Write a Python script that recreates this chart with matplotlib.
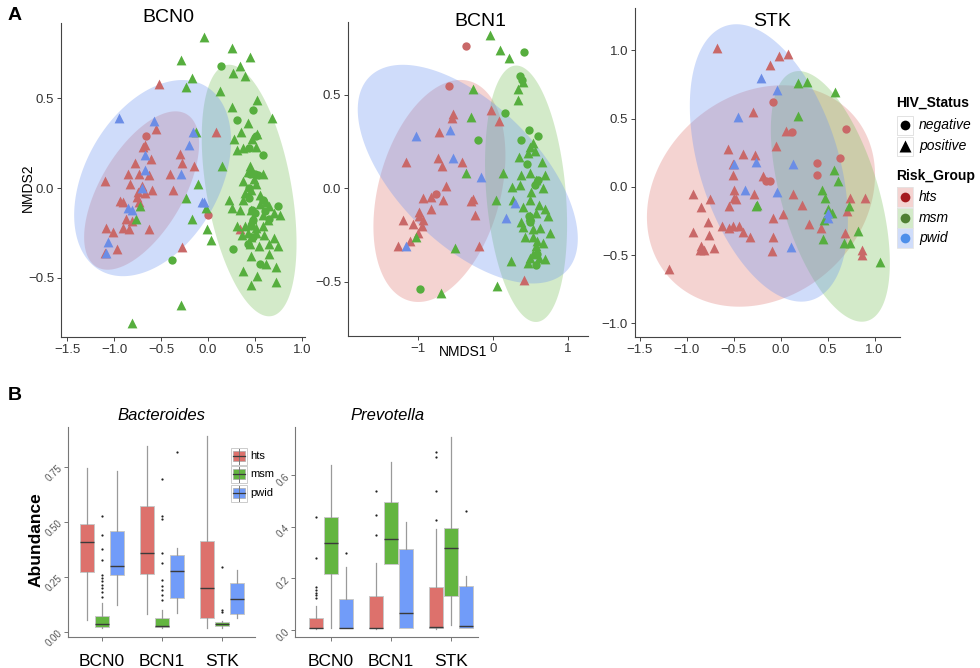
import numpy as np
import matplotlib
matplotlib.use("Agg")
import matplotlib.pyplot as plt
from matplotlib.patches import Rectangle

plt.rcParams['font.family'] = ['Liberation Sans', 'DejaVu Sans']

# ---------------- panel A data: NMDS points (x, y) ----------------
bcn0_hts_pos = [(-0.52, 0.58), (-0.55, 0.33), (-0.675, 0.24), (-0.69, 0.23), (0.08, 0.31), (-0.30, 0.19),
                (-0.61, 0.16), (-0.78, 0.14), (-0.275, 0.14), (-0.15, 0.12), (-0.85, 0.08), (-0.73, 0.08),
                (-0.40, 0.08), (-0.63, 0.07), (-1.10, 0.04), (-0.83, 0.02), (-0.70, 0.01), (-0.60, -0.01),
                (-0.75, -0.02), (-0.375, -0.01), (-0.67, -0.03), (-0.76, -0.05), (-0.94, -0.07), (-0.91, -0.08),
                (-0.74, -0.08), (-0.875, -0.17), (-0.81, -0.185), (-1.09, -0.22), (-0.90, -0.22), (-0.84, -0.23),
                (-0.63, -0.23), (-1.01, -0.245), (-0.97, -0.34), (-1.10, -0.36), (-0.275, -0.33), (0.34, -0.23)]
bcn0_hts_neg = [(-0.66, 0.29), (0.0, -0.15)]
bcn0_pwid_pos = [(-0.95, 0.39), (-0.58, 0.37), (-0.16, 0.31), (-0.20, 0.24), (-0.67, 0.185), (-0.67, 0.10),
                 (-0.29, 0.08), (-0.70, 0.0), (-0.85, -0.11), (-0.81, -0.12), (-1.06, -0.30), (-1.09, -0.36),
                 (-0.07, -0.08), (-0.04, -0.075)]
bcn0_pwid_neg = []
bcn0_msm_pos = [(-0.04, 0.84), (-0.29, 0.71), (-0.17, 0.61), (-0.23, 0.56), (-0.13, 0.31), (0.15, 0.12),
                (-0.11, 0.02), (-0.24, -0.055), (-0.72, -0.10), (-0.77, -0.17), (-0.17, -0.17), (-0.02, -0.11),
                (-0.01, -0.23), (0.03, -0.29), (-0.29, -0.65), (-0.81, -0.75),
                (0.25, 0.78), (0.44, 0.73), (0.34, 0.68), (0.39, 0.62), (0.26, 0.64), (0.125, 0.54),
                (0.52, 0.49), (0.25, 0.45), (0.675, 0.39), (0.42, 0.36), (0.35, 0.31), (0.52, 0.30),
                (0.28, 0.27), (0.47, 0.27), (0.31, 0.21), (0.37, 0.22), (0.51, 0.23), (0.44, 0.12),
                (0.42, 0.09), (0.58, 0.08), (0.37, 0.04), (0.49, 0.05), (0.51, 0.02), (0.46, -0.01),
                (0.39, -0.03), (0.225, -0.065), (0.55, -0.04), (0.37, -0.065), (0.62, -0.075), (0.55, -0.09),
                (0.65, -0.10), (0.25, -0.11), (0.34, -0.12), (0.46, -0.12), (0.70, -0.14), (0.76, -0.15),
                (0.58, -0.15), (0.47, -0.17), (0.64, -0.18), (0.31, -0.21), (0.39, -0.21), (0.51, -0.22),
                (0.58, -0.21), (0.42, -0.25), (0.51, -0.25), (0.36, -0.26), (0.59, -0.26), (0.46, -0.27),
                (0.70, -0.28), (0.45, -0.31), (0.54, -0.32), (0.65, -0.31), (0.74, -0.32), (0.46, -0.38),
                (0.65, -0.365), (0.62, -0.42), (0.37, -0.46), (0.52, -0.49), (0.72, -0.44), (0.46, -0.54),
                (0.72, -0.52)]
bcn0_msm_neg = [(0.14, 0.68), (0.48, 0.435), (0.31, 0.38), (0.51, 0.29), (0.43, 0.22), (0.58, 0.185),
                (0.44, 0.08), (0.50, 0.08), (0.53, 0.07), (0.43, 0.0), (0.43, -0.055), (0.58, -0.065),
                (0.74, -0.10), (0.60, -0.13), (0.47, -0.12), (0.50, -0.14), (0.65, -0.17), (0.48, -0.18),
                (0.46, -0.21), (0.475, -0.27), (0.26, -0.34), (0.42, -0.31), (0.55, -0.42), (-0.38, -0.40)]

bcn1_hts_pos = [(-0.53, 0.40), (-0.54, 0.375), (-0.02, 0.42), (0.08, 0.36), (-0.72, 0.30), (-1.16, 0.14),
                (-0.73, 0.16), (-0.68, 0.12), (-0.41, 0.14), (-0.62, 0.01), (-0.82, -0.045), (-0.93, -0.05),
                (-0.66, -0.06), (-0.27, -0.055), (-0.29, -0.07), (-0.98, -0.125), (-0.82, -0.11), (-0.98, -0.15),
                (-0.93, -0.17), (-0.24, -0.14), (-1.20, -0.17), (-1.06, -0.19), (-0.94, -0.20), (-1.00, -0.24),
                (-1.11, -0.28), (-1.26, -0.31), (-0.19, -0.31), (0.42, -0.49)]
bcn1_hts_neg = [(-0.36, 0.76), (-0.58, 0.55), (-0.76, -0.03)]
bcn1_pwid_pos = [(-0.57, 0.31), (-1.02, 0.28), (-0.53, 0.16), (-0.16, 0.06), (0.30, -0.08), (0.18, -0.16),
                 (-1.16, -0.31)]
bcn1_pwid_neg = []
bcn1_msm_pos = [(-0.04, 0.82), (0.10, 0.74), (0.21, 0.70), (0.40, 0.57), (0.33, 0.53), (0.33, 0.47),
                (-0.27, 0.53), (-0.29, 0.38), (-0.36, 0.08), (0.14, 0.08), (0.49, 0.22), (0.53, 0.24),
                (0.56, 0.20), (0.47, 0.19), (0.35, 0.17), (0.65, 0.14), (0.38, 0.07), (0.49, 0.08),
                (0.58, 0.045), (0.69, 0.07), (0.04, -0.06), (0.25, 0.005), (0.36, 0.02), (0.51, -0.02),
                (0.67, 0.0), (0.27, -0.06), (0.40, -0.10), (0.49, -0.06), (0.62, -0.09), (0.70, -0.11),
                (0.58, -0.13), (0.73, -0.15), (0.49, -0.15), (0.38, -0.18), (0.40, -0.205), (0.53, -0.215),
                (0.63, -0.21), (0.76, -0.24), (0.43, -0.26), (0.53, -0.26), (-1.02, -0.26), (-0.50, -0.32),
                (0.59, -0.28), (0.67, -0.29), (0.57, -0.31), (0.53, -0.35), (0.49, -0.37), (0.62, -0.37),
                (0.69, -0.38), (0.24, -0.39), (0.47, -0.40), (0.05, -0.52), (-0.69, -0.56)]
bcn1_msm_neg = [(0.42, 0.73), (0.36, 0.60), (0.39, 0.58), (0.16, 0.405), (-0.20, 0.26), (0.48, 0.31),
                (0.60, 0.28), (0.38, 0.26), (0.45, 0.13), (0.60, 0.045), (0.56, 0.02), (0.48, -0.15),
                (0.50, -0.17), (0.49, -0.18), (0.58, -0.41), (0.59, -0.35), (-0.97, -0.54)]

stk_hts_pos = [(-0.68, 1.02), (-0.11, 0.895), (-0.02, 0.96), (0.08, 0.97), (-0.30, 0.55), (-0.56, 0.28),
               (-0.40, 0.24), (-0.27, 0.23), (-0.05, 0.30), (0.06, 0.41), (-0.51, 0.17), (-0.19, 0.08),
               (-0.51, 0.085), (-0.50, -0.02), (-0.50, -0.08), (-0.48, -0.09), (-0.28, -0.05), (-0.94, -0.05),
               (-0.845, -0.15), (-0.75, -0.09), (-0.55, -0.14), (-0.775, -0.26), (-0.63, -0.29), (-0.93, -0.33),
               (-0.76, -0.35), (-0.55, -0.30), (-0.51, -0.29), (-0.44, -0.29), (-0.40, -0.33), (-0.33, -0.37),
               (-0.845, -0.43), (-0.82, -0.46), (-0.71, -0.45), (-0.86, -0.46), (-1.19, -0.60), (-0.08, -0.23),
               (-0.08, -0.37), (-0.095, -0.47), (0.02, -0.20), (0.13, -0.05), (0.23, -0.13), (0.30, -0.27),
               (0.43, -0.30), (0.68, -0.34), (0.71, -0.18), (0.74, -0.085), (0.90, -0.085), (0.87, -0.46),
               (0.86, -0.50)]
stk_hts_neg = [(-0.08, 0.62), (0.12, 0.40), (-0.16, 0.04), (-0.12, 0.04), (0.39, 0.175), (0.39, 0.085),
               (0.63, 0.21), (0.69, 0.42)]
stk_pwid_pos = [(-0.21, 0.80), (-0.035, 0.71), (-0.46, 0.51), (-0.50, 0.17), (-0.26, 0.18), (0.13, 0.17),
                (-0.38, -0.02), (-0.04, -0.04), (0.11, -0.44), (0.50, -0.195), (0.50, -0.23)]
stk_pwid_neg = []
stk_msm_pos = [(0.18, 0.76), (0.28, 0.77), (0.58, 0.695), (0.18, 0.52), (0.44, -0.02), (0.475, -0.08),
               (0.57, 0.12), (0.61, 0.04), (0.50, -0.16), (0.55, -0.19), (-0.25, -0.13), (-0.26, -0.14),
               (0.46, -0.24), (0.45, -0.38), (0.67, -0.41), (0.74, -0.41), (0.82, -0.32), (1.06, -0.55),
               (0.73, -0.14)]
stk_msm_neg = []

# confidence ellipses: centre x, centre y, x half-extent, y half-extent, correlation
bcn0_ell = {"hts": (-0.707, -0.014, 0.611, 0.44, 0.59), "msm": (0.436, -0.014, 0.504, 0.699, -0.42),
            "pwid": (-0.59, 0.055, 0.834, 0.545, 0.378)}
bcn1_ell = {"hts": (-0.711, -0.014, 0.88, 0.594, 0.32), "msm": (0.444, -0.029, 0.547, 0.686, -0.24),
            "pwid": (-0.333, 0.076, 1.467, 0.585, -0.59)}
stk_ell = {"hts": (-0.211, -0.067, 1.215, 0.811, 0.19), "msm": (0.528, -0.07, 0.634, 0.918, -0.53),
           "pwid": (-0.127, 0.175, 0.842, 1.016, -0.41)}

bcn0_xticks = [-1.5, -1.0, -0.5, 0.0, 0.5, 1.0]
bcn0_yticks = [-0.5, 0.0, 0.5]
bcn1_xticks = [-1, 0, 1]
bcn1_yticks = [-0.5, 0.0, 0.5]
stk_xticks = [-1.5, -1.0, -0.5, 0.0, 0.5, 1.0]
stk_yticks = [-1.0, -0.5, 0.0, 0.5, 1.0]

# ---------------- panel B data: box stats [whislo, q1, median, q3, whishi] ----------------
sites = ["BCN0", "BCN1", "STK"]
groups = ["hts", "msm", "pwid"]
bact_hts = [[0.055, 0.27, 0.41, 0.49, 0.745], [0.08, 0.264, 0.36, 0.57, 0.845], [0.018, 0.064, 0.20, 0.413, 0.888]]
bact_msm = [[0.02, 0.023, 0.036, 0.073, 0.13], [0.02, 0.023, 0.025, 0.064, 0.10], [0.02, 0.027, 0.036, 0.045, 0.05]]
bact_pwid = [[0.12, 0.26, 0.30, 0.46, 0.73], [0.085, 0.155, 0.277, 0.35, 0.38], [0.064, 0.082, 0.15, 0.224, 0.28]]
bact_hts_out = [[], [], []]
bact_msm_out = [[0.524, 0.44, 0.377, 0.327, 0.259, 0.245, 0.229, 0.214, 0.199, 0.183, 0.16],
                [0.695, 0.527, 0.513, 0.36, 0.313, 0.236, 0.209, 0.19, 0.168, 0.145],
                [0.295, 0.10, 0.09]]
bact_pwid_out = [[], [0.815], []]

prev_hts = [[0.005, 0.008, 0.008, 0.047, 0.093], [0.005, 0.008, 0.008, 0.13, 0.26], [0.005, 0.008, 0.013, 0.168, 0.39]]
prev_msm = [[0.008, 0.217, 0.337, 0.44, 0.64], [0.256, 0.256, 0.353, 0.497, 0.65], [0.02, 0.13, 0.317, 0.394, 0.75]]
prev_pwid = [[0.008, 0.008, 0.008, 0.12, 0.245], [0.008, 0.008, 0.065, 0.314, 0.42], [0.008, 0.008, 0.017, 0.17, 0.21]]
prev_hts_out = [[0.44, 0.28, 0.165, 0.155, 0.145, 0.135, 0.125], [0.54, 0.445, 0.368], [0.69, 0.67, 0.54, 0.427]]
prev_msm_out = [[], [], []]
prev_pwid_out = [[0.30], [], [0.463]]

bact_yticks = [0.0, 0.25, 0.5, 0.75]
prev_yticks = [0.0, 0.2, 0.4, 0.6]

# ---------------- styling ----------------
pt_col = {"hts": "#C96868", "msm": "#56AE3E", "pwid": "#6B8DE6"}
ell_col = {"hts": "#E07A76", "msm": "#7CC05C", "pwid": "#6E95F0"}
box_col = {"hts": "#DD716C", "msm": "#63B540", "pwid": "#719CF9"}
leg_dot = {"hts": "#A5191E", "msm": "#4F7F33", "pwid": "#4D8FEA"}

W, H = 980, 668
fig = plt.figure(figsize=(W / 100, H / 100), dpi=100)


def rect(l, t, r, b):
    return [l / W, 1 - b / H, (r - l) / W, (b - t) / H]


def fmt(v, nd):
    return ("%." + str(nd) + "f") % v if nd >= 0 else "%d" % v


def draw_ellipse(ax, p, color):
    cx, cy, wx, wy, r = p
    t = np.linspace(0, 2 * np.pi, 240)
    S = np.array([[wx * wx, r * wx * wy], [r * wx * wy, wy * wy]])
    L = np.linalg.cholesky(S)
    e = L @ np.vstack([np.cos(t), np.sin(t)])
    ax.fill(cx + e[0], cy + e[1], color=color, alpha=0.33, lw=0, zorder=1)


def style_axes(ax, col="#444444"):
    for s in ["top", "right"]:
        ax.spines[s].set_visible(False)
    for s in ["left", "bottom"]:
        ax.spines[s].set_color(col)
        ax.spines[s].set_linewidth(0.8)
    ax.tick_params(length=3, width=0.7, color=col, labelcolor="#333333", labelsize=9.5, pad=2)


scat_panels = [
    (rect(61, 23, 305, 337), (-1.564, 1.03), (-0.828, 0.917), bcn0_xticks, 1, bcn0_yticks, bcn0_ell,
     {"hts": (bcn0_hts_neg, bcn0_hts_pos), "msm": (bcn0_msm_neg, bcn0_msm_pos), "pwid": (bcn0_pwid_neg, bcn0_pwid_pos)}),
    (rect(348, 22, 588, 336), (-1.93, 1.27), (-0.79, 0.89), bcn1_xticks, -1, bcn1_yticks, bcn1_ell,
     {"hts": (bcn1_hts_neg, bcn1_hts_pos), "msm": (bcn1_msm_neg, bcn1_msm_pos), "pwid": (bcn1_pwid_neg, bcn1_pwid_pos)}),
    (rect(635, 8, 900, 337), (-1.553, 1.27), (-1.10, 1.31), stk_xticks, 1, stk_yticks, stk_ell,
     {"hts": (stk_hts_neg, stk_hts_pos), "msm": (stk_msm_neg, stk_msm_pos), "pwid": (stk_pwid_neg, stk_pwid_pos)}),
]

for pos, xl, yl, xt, xnd, yt, ell, pts in scat_panels:
    ax = fig.add_axes(pos)
    for g in groups:
        draw_ellipse(ax, ell[g], ell_col[g])
    for g in groups:
        neg, posi = pts[g]
        if neg:
            a = np.array(neg)
            ax.scatter(a[:, 0], a[:, 1], s=36, marker="o", color=pt_col[g], lw=0, zorder=3)
        if posi:
            a = np.array(posi)
            ax.scatter(a[:, 0], a[:, 1], s=50, marker="^", color=pt_col[g], lw=0, zorder=3)
    ax.set_xlim(*xl)
    ax.set_ylim(*yl)
    ax.set_xticks(xt)
    ax.set_xticklabels([fmt(v, xnd).replace("-", "\u2212") for v in xt])
    ax.set_yticks(yt)
    ax.set_yticklabels([fmt(v, 1).replace("-", "\u2212") for v in yt])
    ax.patch.set_alpha(0)
    style_axes(ax)

# ---------------- panel B ----------------
box_panels = [
    (rect(68, 427, 255, 637), (0.433, 3.55), (-0.023, 0.93), bact_yticks, 2,
     [bact_hts, bact_msm, bact_pwid], [bact_hts_out, bact_msm_out, bact_pwid_out]),
    (rect(295, 427, 478, 637), (0.4, 3.45), (-0.027, 0.787), prev_yticks, 1,
     [prev_hts, prev_msm, prev_pwid], [prev_hts_out, prev_msm_out, prev_pwid_out]),
]
offsets = [-0.25, 0.0, 0.25]
for pos, xl, yl, yt, ynd, stats, outs in box_panels:
    ax = fig.add_axes(pos)
    for gi, g in enumerate(groups):
        bs = []
        for si in range(3):
            lo, q1, med, q3, hi = stats[gi][si]
            bs.append(dict(whislo=lo, q1=q1, med=med, q3=q3, whishi=hi, fliers=outs[gi][si]))
        ax.bxp(bs, positions=[si + 1 + offsets[gi] for si in range(3)], widths=0.24,
               patch_artist=True, showcaps=False,
               boxprops=dict(facecolor=box_col[g], edgecolor="#c8c8c8", lw=0.7),
               medianprops=dict(color="#3a3a3a", lw=1.0),
               whiskerprops=dict(color="#9a9a9a", lw=0.9),
               flierprops=dict(marker="o", markersize=1.6, markerfacecolor="#222222",
                               markeredgecolor="none"))
    ax.set_xlim(*xl)
    ax.set_ylim(*yl)
    ax.set_xticks([1, 2, 3])
    ax.set_xticklabels(sites)
    ax.set_yticks(yt)
    ax.set_yticklabels([fmt(v, ynd) for v in yt], rotation=45, ha="right", va="center",
                       rotation_mode="anchor")
    style_axes(ax, "#777777")
    ax.tick_params(axis="y", labelsize=7, labelcolor="#555555")
    ax.tick_params(axis="x", labelsize=12.5, labelcolor="black", pad=9)

# ---------------- overlay: titles, labels, legends ----------------
ov = fig.add_axes([0, 0, 1, 1])
ov.set_xlim(0, W)
ov.set_ylim(H, 0)
ov.axis("off")
ov.patch.set_alpha(0)

ov.text(8, 16, "A", fontsize=14, fontweight="bold", va="center")
ov.text(8, 395, "B", fontsize=14, fontweight="bold", va="center")
ov.text(168, 18, "BCN0", fontsize=14, ha="center", va="center")
ov.text(480, 21, "BCN1", fontsize=14, ha="center", va="center")
ov.text(772, 21, "STK", fontsize=14, ha="center", va="center")
ov.text(28, 188, "NMDS2", fontsize=10, rotation=90, ha="center", va="center")
ov.text(463, 352, "NMDS1", fontsize=10, ha="center", va="center")
ov.text(161, 416, "Bacteroides", fontsize=12, style="italic", ha="center", va="center")
ov.text(388, 416, "Prevotella", fontsize=12, style="italic", ha="center", va="center")
ov.text(36, 540, "Abundance", fontsize=12.5, fontweight="bold", rotation=90, ha="center", va="center")

# HIV / risk group legend
ov.text(896, 103, "HIV_Status", fontsize=10, fontweight="bold", va="center")
for yy, mk, lab, ms in [(125, "o", "negative", 7), (146, "^", "positive", 8.5)]:
    ov.add_patch(Rectangle((897, yy - 9.5), 16, 19, facecolor="white", edgecolor="#dddddd", lw=0.6))
    ov.plot(905, yy, marker=mk, markersize=ms, color="black", mec="none")
    ov.text(919, yy, lab, fontsize=10, style="italic", va="center")
ov.text(896, 176, "Risk_Group", fontsize=10, fontweight="bold", va="center")
for yy, g in [(197, "hts"), (218, "msm"), (238, "pwid")]:
    ov.add_patch(Rectangle((897, yy - 10), 16, 20, facecolor=ell_col[g], alpha=0.33, edgecolor="none"))
    ov.add_patch(Rectangle((897, yy - 10), 16, 20, facecolor="none", edgecolor="#e4e4e4", lw=0.6))
    ov.plot(905, yy, marker="o", markersize=7, color=leg_dot[g], mec="none")
    ov.text(919, yy, g, fontsize=10, style="italic", va="center")

# boxplot legend
for yy, g in [(456, "hts"), (474, "msm"), (493, "pwid")]:
    ov.add_patch(Rectangle((231, yy - 8.5), 16, 17, facecolor="white", edgecolor="#cccccc", lw=0.7))
    ov.plot([239, 239], [yy - 7.5, yy + 7.5], color="#777777", lw=0.7)
    ov.add_patch(Rectangle((233, yy - 5), 12, 10, facecolor=box_col[g], edgecolor="#aaaaaa", lw=0.5))
    ov.plot([233, 245], [yy, yy], color="#3a3a3a", lw=0.9)
    ov.text(250, yy, g, fontsize=8, va="center")

fig.savefig("out.png", dpi=100)
